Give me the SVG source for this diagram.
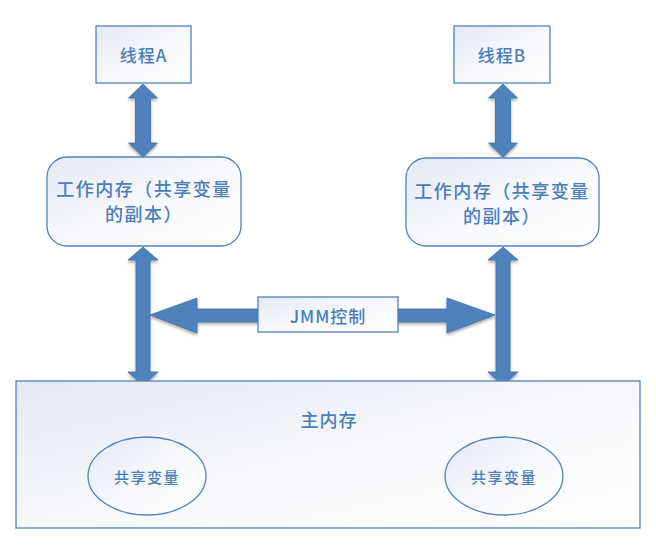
<svg xmlns="http://www.w3.org/2000/svg" width="656" height="550" viewBox="0 0 656 550">
  <defs>
    <linearGradient id="boxFill" x1="0" y1="0" x2="1" y2="1">
      <stop offset="0" stop-color="#e4e9f4"/>
      <stop offset="0.55" stop-color="#f8f9fc"/>
      <stop offset="1" stop-color="#ffffff"/>
    </linearGradient>
    <filter id="soft" x="-30%" y="-30%" width="160%" height="160%">
      <feGaussianBlur in="SourceAlpha" stdDeviation="1.5"/>
      <feOffset dx="0" dy="1.5" result="b"/>
      <feComponentTransfer><feFuncA type="linear" slope="0.35"/></feComponentTransfer>
      <feMerge><feMergeNode/><feMergeNode in="SourceGraphic"/></feMerge>
    </filter>
  </defs>
  <style>
    .box { fill: url(#boxFill); stroke: #4f81bd; stroke-width: 1.3; }
    .arrow { fill: #4f81bd; stroke: #3f6fa3; stroke-width: 0.8; filter: url(#soft); }
    .label { font-family: "Noto Sans CJK SC", "Liberation Sans", sans-serif; font-weight: 500; fill: #4a7ebb; text-anchor: middle; dominant-baseline: central; }
  </style>

  <!-- connectors -->
  <g id="connectors">
    <!-- thread A <-> working memory A -->
    <polygon class="arrow" points="143,84 157.5,98 150.5,98 150.5,143 157.5,143 143,157 128.5,143 135.5,143 135.5,98 128.5,98"/>
    <!-- thread B <-> working memory B -->
    <polygon class="arrow" points="503,84 517.5,98 510.5,98 510.5,143 517.5,143 503,157 488.5,143 495.5,143 495.5,98 488.5,98"/>
    <!-- working memory A <-> main memory -->
    <polygon class="arrow" points="143,247 158,260 150,260 150,372 158,372 143,385 128,372 136,372 136,260 128,260"/>
    <!-- working memory B <-> main memory -->
    <polygon class="arrow" points="503,247 518,260 510,260 510,372 518,372 503,385 488,372 496,372 496,260 488,260"/>
    <!-- JMM control -> left -->
    <polygon class="arrow" points="150,315 197,298 197,309 258,309 258,322 197,322 197,333"/>
    <!-- JMM control -> right -->
    <polygon class="arrow" points="495,315 447,298 447,309 398,309 398,322 447,322 447,333"/>
  </g>

  <g id="threadA">
    <rect class="box" x="96" y="26" width="95" height="57"/>
    <text class="label" x="143.5" y="54" font-size="17" letter-spacing="1">线程A</text>
  </g>

  <g id="threadB">
    <rect class="box" x="454" y="26" width="96" height="57"/>
    <text class="label" x="502" y="54" font-size="17" letter-spacing="1">线程B</text>
  </g>

  <g id="workMemA">
    <rect class="box" x="47" y="157" width="194" height="89" rx="20" ry="20"/>
    <text class="label" x="144" y="188" font-size="18" letter-spacing="1.5">工作内存（共享变量</text>
    <text class="label" x="144" y="213" font-size="18" letter-spacing="1.5">的副本）</text>
  </g>

  <g id="workMemB">
    <rect class="box" x="406" y="158" width="193" height="88" rx="20" ry="20"/>
    <text class="label" x="502" y="190" font-size="18" letter-spacing="1.5">工作内存（共享变量</text>
    <text class="label" x="502" y="215" font-size="18" letter-spacing="1.5">的副本）</text>
  </g>

  <g id="jmm">
    <rect class="box" x="258" y="297" width="140" height="35"/>
    <text class="label" x="328" y="315" font-size="17" letter-spacing="1">JMM控制</text>
  </g>

  <g id="mainMemory">
    <rect class="box" x="16" y="381" width="624" height="147"/>
    <text class="label" x="329" y="419" font-size="18" letter-spacing="1">主内存</text>
  </g>

  <g id="sharedVar1">
    <ellipse class="box" cx="147" cy="476" rx="59" ry="39"/>
    <text class="label" x="147" y="476" font-size="15" letter-spacing="1.5">共享变量</text>
  </g>

  <g id="sharedVar2">
    <ellipse class="box" cx="504" cy="476" rx="59" ry="39"/>
    <text class="label" x="504" y="476" font-size="15" letter-spacing="1.5">共享变量</text>
  </g>
</svg>
